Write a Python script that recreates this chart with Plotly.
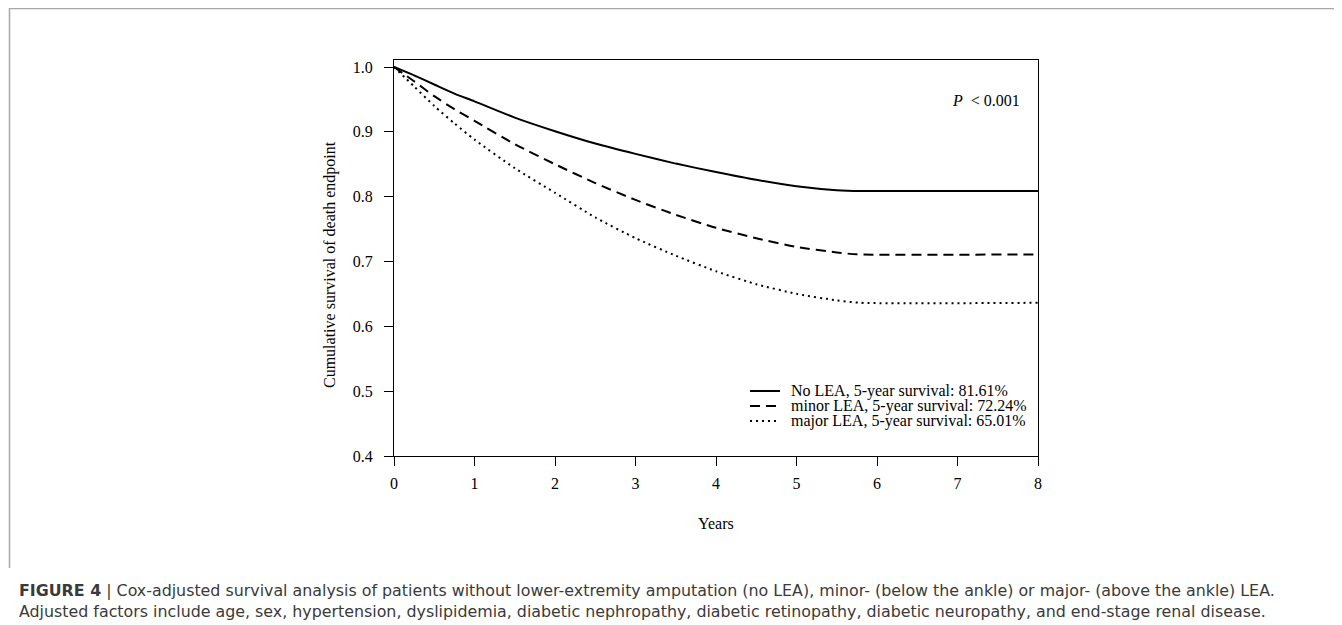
import plotly.graph_objects as go

# ---- data ----
years_no = [0, 0.25, 0.5, 0.75, 1, 1.5, 2, 2.5, 3, 3.5, 4, 4.5, 5, 5.5, 5.8, 8]
surv_no = [1.0, 0.987, 0.973, 0.959, 0.947, 0.922, 0.901, 0.882, 0.866, 0.851,
           0.838, 0.826, 0.8161, 0.810, 0.8086, 0.8086]

years_minor = [0, 0.25, 0.5, 0.75, 1, 1.5, 2, 2.5, 3, 3.5, 4, 4.5, 5, 5.5, 5.75, 8]
surv_minor = [1.0, 0.978, 0.955, 0.935, 0.917, 0.881, 0.850, 0.821, 0.795, 0.772,
              0.752, 0.736, 0.7224, 0.714, 0.711, 0.711]

years_major = [0, 0.25, 0.5, 0.75, 1, 1.5, 2, 2.5, 3, 3.5, 4, 4.5, 5, 5.5, 5.8, 8]
surv_major = [1.0, 0.970, 0.940, 0.913, 0.888, 0.844, 0.806, 0.768, 0.736, 0.709,
              0.685, 0.665, 0.6501, 0.640, 0.6363, 0.6363]

series_names = ["No LEA, 5-year survival: 81.61%",
                "minor LEA, 5-year survival: 72.24%",
                "major LEA, 5-year survival: 65.01%"]
x_ticks = [0, 1, 2, 3, 4, 5, 6, 7, 8]
y_ticks = [0.4, 0.5, 0.6, 0.7, 0.8, 0.9, 1.0]

caption_1 = ("<b>FIGURE 4</b> | Cox-adjusted survival analysis of patients without lower-extremity "
             "amputation (no LEA), minor- (below the ankle) or major- (above the ankle) LEA.")
caption_2 = ("Adjusted factors include age, sex, hypertension, dyslipidemia, diabetic nephropathy, "
             "diabetic retinopathy, diabetic neuropathy, and end-stage renal disease.")

# ---- layout geometry (page pixels; page body has an 8px margin) ----
OFF = 8
W, H = 1342 - OFF, 625 - OFF
L, R, T, B = 394 - OFF, 1038 - OFF, 60 - OFF, 456 - OFF


def px(xp):
    return (xp - OFF - L) / (R - L)


def py(yp):
    return (B - (yp - OFF)) / (B - T)


SERIF = "Liberation Serif"
dashes = ["solid", "10px,6px", "2px,4px"]

fig = go.Figure()
for xs, ys, name, d in [(years_no, surv_no, series_names[0], dashes[0]),
                        (years_minor, surv_minor, series_names[1], dashes[1]),
                        (years_major, surv_major, series_names[2], dashes[2])]:
    fig.add_trace(go.Scatter(x=xs, y=ys, mode="lines", name=name,
                             line=dict(color="black", width=2, dash=d,
                                       shape="spline", smoothing=0.6),
                             showlegend=False, hoverinfo="skip"))

shapes = []
annotations = []

# manual legend
leg_rows = [391, 406, 421]
for yrow, name, d in zip(leg_rows, series_names, dashes):
    shapes.append(dict(type="line", xref="paper", yref="paper",
                       x0=px(750), x1=px(780), y0=py(yrow), y1=py(yrow),
                       line=dict(color="black", width=2, dash=d)))
    annotations.append(dict(text=name, xref="paper", yref="paper",
                            x=px(789), y=py(yrow), xanchor="left", yanchor="middle",
                            showarrow=False, font=dict(family=SERIF, size=16, color="black")))

# P value
annotations.append(dict(text="<i>P</i>  &lt; 0.001", xref="paper", yref="paper",
                        x=px(1022), y=py(100), xanchor="right", yanchor="middle",
                        showarrow=False, font=dict(family=SERIF, size=16, color="black")))

# axis titles
annotations.append(dict(text="Cumulative survival of death endpoint", xref="paper", yref="paper",
                        x=px(330), y=py(265), xanchor="center", yanchor="middle", textangle=-90,
                        showarrow=False, font=dict(family=SERIF, size=16, color="black")))
annotations.append(dict(text="Years", xref="paper", yref="paper",
                        x=px(716), y=py(523), xanchor="center", yanchor="middle",
                        showarrow=False, font=dict(family=SERIF, size=16, color="black")))

# caption
for txt, yc in [(caption_1, 590), (caption_2, 611)]:
    annotations.append(dict(text=txt, xref="paper", yref="paper",
                            x=px(17), y=py(yc), xanchor="left", yanchor="middle",
                            showarrow=False,
                            font=dict(family="DejaVu Sans", size=15.85, color="#3a3a3a")))

# figure border (top and left)
shapes.append(dict(type="line", xref="paper", yref="paper",
                   x0=px(9), x1=px(1342), y0=py(8.5), y1=py(8.5),
                   line=dict(color="#a8a8a8", width=1.5)))
shapes.append(dict(type="line", xref="paper", yref="paper",
                   x0=px(9.5), x1=px(9.5), y0=py(8), y1=py(568),
                   line=dict(color="#a8a8a8", width=1.5)))

axis_common = dict(showline=True, linecolor="black", linewidth=1.3, mirror=True,
                   ticks="outside", ticklen=9, tickwidth=1.2, tickcolor="black",
                   showgrid=False, zeroline=False,
                   tickfont=dict(family=SERIF, size=16, color="black"))

fig.update_layout(
    width=W, height=H, autosize=False,
    margin=dict(l=L, r=W - R, t=T, b=H - B, pad=0),
    paper_bgcolor="white", plot_bgcolor="white",
    xaxis=dict(range=[0, 8], tickvals=x_ticks, ticklabelstandoff=4, **axis_common),
    yaxis=dict(range=[0.4, 1.0108], tickvals=y_ticks, tickformat=".1f",
               ticklabelstandoff=8, **axis_common),
    shapes=shapes, annotations=annotations,
)

fig.write_html("out.html")
